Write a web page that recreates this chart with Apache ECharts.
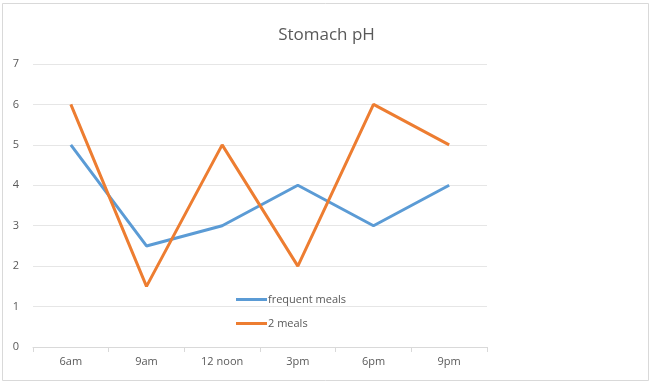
<!DOCTYPE html>
<html><head><meta charset="utf-8">
<script src="https://cdn.jsdelivr.net/npm/echarts@6/dist/echarts.min.js"></script>
<style>html,body{margin:0;padding:0;background:#fff}#c{width:653px;height:384px}</style>
</head><body><div id="c"></div>
<script>
const categories = ['6am', '9am', '12 noon', '3pm', '6pm', '9pm'];
const frequentMeals = [5, 2.5, 3, 4, 3, 4];
const twoMeals = [6, 1.5, 5, 2, 6, 5];
const yTicks = [0, 1, 2, 3, 4, 5, 6, 7];

const chart = echarts.init(document.getElementById('c'), null, {renderer: 'canvas'});
const txt = '#595959';
chart.setOption({
  animation: false,
  backgroundColor: '#fff',
  title: {text: 'Stomach pH', left: 'center', top: 22,
    textStyle: {color: txt, fontSize: 17, fontWeight: 'normal', fontFamily: 'Open Sans'}},
  graphic: [{type: 'rect', shape: {x: 2.5, y: 3.5, width: 646, height: 377},
    style: {fill: 'none', stroke: '#d9d9d9', lineWidth: 1}, silent: true}],
  legend: {orient: 'vertical', left: 231, top: 289, itemWidth: 31, itemHeight: 3, itemGap: 13,
    icon: 'rect',
    textStyle: {color: txt, fontSize: 11, fontFamily: 'Open Sans', padding: [0,0,0,-4]},
    data: ['frequent meals', '2 meals']},
  grid: {left: 33, right: 166, top: 64, bottom: 37, containLabel: false},
  xAxis: {type: 'category', data: categories, boundaryGap: true,
    axisLine: {lineStyle: {color: '#d9d9d9'}},
    axisTick: {show: true, length: 5, lineStyle: {color: '#d9d9d9'}},
    axisLabel: {color: txt, fontSize: 11, fontFamily: 'Open Sans', margin: 9}},
  yAxis: {type: 'value', min: 0, max: 7, interval: 1,
    axisLine: {show: false}, axisTick: {show: false},
    splitLine: {lineStyle: {color: '#e6e6e6', width: 1}},
    axisLabel: {color: txt, fontSize: 11, fontFamily: 'Open Sans', margin: 14,
      formatter: v => yTicks.includes(v) ? String(v) : ''}},
  series: [
    {name: 'frequent meals', type: 'line', data: frequentMeals, symbol: 'none',
     itemStyle: {color: '#5B9BD5'}, lineStyle: {width: 3, color: '#5B9BD5'}},
    {name: '2 meals', type: 'line', data: twoMeals, symbol: 'none',
     itemStyle: {color: '#ED7D31'}, lineStyle: {width: 3, color: '#ED7D31'}}
  ]
});
</script></body></html>
